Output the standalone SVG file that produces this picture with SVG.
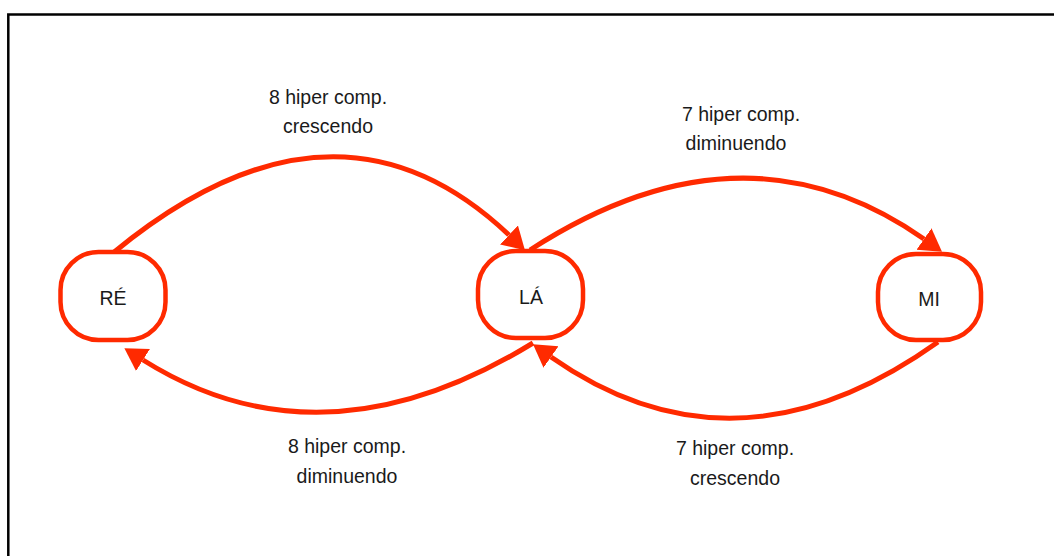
<svg xmlns="http://www.w3.org/2000/svg" width="1054" height="556" viewBox="0 0 1054 556">
  <style>
    .frame { fill: none; stroke: #000; stroke-width: 2.5; }
    .node rect { fill: #fff; stroke: #ff2a00; stroke-width: 4.5; }
    .node text, .label { font-family: "Liberation Sans", Arial, sans-serif; font-size: 19.5px; fill: #1a1a1a; text-anchor: middle; }
    .edge { fill: none; stroke: #ff2a00; stroke-width: 5; marker-end: url(#head); }
  </style>
  <defs>
    <marker id="head" markerUnits="userSpaceOnUse" markerWidth="26" markerHeight="28" refX="0" refY="13" orient="auto" viewBox="0 0 26 26">
      <path d="M0,0 L22,13 L0,26 Z" fill="#ff2a00"/>
    </marker>
  </defs>

  <rect width="1054" height="556" fill="#fff"/>
  <path class="frame" d="M8.3,556 V14.5 H1054"/>

  <!-- connectors -->
  <g id="connectors">
    <path class="edge" d="M113,253 Q335,70 509,235"/>
    <path class="edge" d="M530,250 Q743,112 924,239"/>
    <path class="edge" d="M938,342 Q735.5,486.5 551,357"/>
    <path class="edge" d="M533,343 Q322,472.5 143,360"/>
  </g>

  <!-- edge labels -->
  <g id="labels">
    <text class="label" x="328" y="104">8 hiper comp.</text>
    <text class="label" x="328" y="133">crescendo</text>
    <text class="label" x="741" y="121">7 hiper comp.</text>
    <text class="label" x="736" y="150">diminuendo</text>
    <text class="label" x="347" y="453">8 hiper comp.</text>
    <text class="label" x="347" y="483">diminuendo</text>
    <text class="label" x="735" y="455">7 hiper comp.</text>
    <text class="label" x="735" y="485">crescendo</text>
  </g>

  <!-- nodes -->
  <g id="node-re" class="node">
    <rect x="60.5" y="252" width="105" height="88" rx="38"/>
    <text x="113" y="305">RÉ</text>
  </g>
  <g id="node-la" class="node">
    <rect x="478" y="251" width="105" height="87" rx="38"/>
    <text x="531" y="304">LÁ</text>
  </g>
  <g id="node-mi" class="node">
    <rect x="878" y="254" width="103" height="86" rx="38"/>
    <text x="929" y="306">MI</text>
  </g>
</svg>
